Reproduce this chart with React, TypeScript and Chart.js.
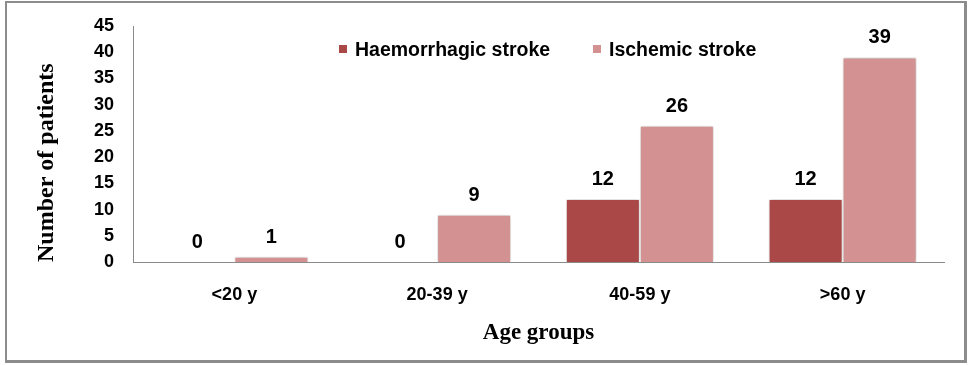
import React, { useEffect, useRef } from 'react';
import { Chart, registerables } from 'chart.js';

Chart.register(...registerables);

const categories = ['<20 y', '20-39 y', '40-59 y', '>60 y'];
const haemorrhagic = [0, 0, 12, 12];
const ischemic = [1, 9, 26, 39];
const seriesNames = ['Haemorrhagic stroke', 'Ischemic stroke'];
const seriesColors = ['#A94846', '#D39291'];
const yMin = 0;
const yMax = 45;
const yStep = 5;
const xTitle = 'Age groups';
const yTitle = 'Number of patients';

const SANS = "'Liberation Sans', Arial, sans-serif";
const SERIF = "'Liberation Serif', 'Times New Roman', serif";

const shadowPlugin = {
  id: 'barShadow',
  beforeDatasetsDraw(chart: any) {
    const ctx = chart.ctx;
    ctx.save();
    ctx.shadowColor = 'rgba(0,0,0,0.28)';
    ctx.shadowBlur = 4;
    ctx.shadowOffsetX = 0;
    ctx.shadowOffsetY = 0;
  },
  afterDatasetsDraw(chart: any) {
    chart.ctx.restore();
  },
};

const valueLabelPlugin = {
  id: 'valueLabels',
  afterDatasetsDraw(chart: any) {
    const ctx = chart.ctx;
    ctx.save();
    ctx.font = `bold 20px ${SANS}`;
    ctx.fillStyle = '#000';
    ctx.textAlign = 'center';
    ctx.textBaseline = 'alphabetic';
    chart.data.datasets.forEach((ds: any, i: number) => {
      const meta = chart.getDatasetMeta(i);
      meta.data.forEach((el: any, j: number) => {
        ctx.fillText(String(ds.data[j]), el.x, el.y - 14);
      });
    });
    ctx.restore();
  },
};

const legendPlugin = {
  id: 'insideLegend',
  afterDraw(chart: any) {
    const ctx = chart.ctx;
    const items = [
      { x: 339, label: seriesNames[0], color: seriesColors[0] },
      { x: 593, label: seriesNames[1], color: seriesColors[1] },
    ];
    const cy = 49;
    ctx.save();
    ctx.font = `bold 19.5px ${SANS}`;
    ctx.textAlign = 'left';
    ctx.textBaseline = 'middle';
    items.forEach((it) => {
      ctx.fillStyle = it.color;
      ctx.fillRect(it.x, cy - 4, 8, 8);
      ctx.fillStyle = '#000';
      ctx.fillText(it.label, it.x + 16, cy + 1.5);
    });
    ctx.restore();
  },
};

export default function App() {
  const ref = useRef<HTMLCanvasElement>(null);

  useEffect(() => {
    if (!ref.current) return;
    const chart = new Chart(ref.current, {
      type: 'bar',
      data: {
        labels: categories,
        datasets: [
          {
            label: seriesNames[0],
            data: haemorrhagic,
            backgroundColor: seriesColors[0],
            borderColor: '#ffffff',
            borderWidth: 1,
            categoryPercentage: 0.73,
            barPercentage: 1,
          },
          {
            label: seriesNames[1],
            data: ischemic,
            backgroundColor: seriesColors[1],
            borderColor: '#ffffff',
            borderWidth: 1,
            categoryPercentage: 0.73,
            barPercentage: 1,
          },
        ],
      },
      options: {
        responsive: false,
        animation: false,
        layout: { padding: { left: 0, right: 26, top: 26, bottom: 0 } },
        plugins: {
          legend: { display: false },
          tooltip: { enabled: false },
        },
        scales: {
          x: {
            grid: { display: false, drawTicks: false },
            border: { display: true, color: '#8a8a8a', width: 1 },
            ticks: {
              color: '#000',
              padding: 22,
              font: { family: SANS, size: 18, weight: 'bold' },
            },
            title: {
              display: true,
              text: xTitle,
              color: '#000',
              font: { family: SERIF, size: 23, weight: 'bold' },
              padding: { top: 0, bottom: 18 },
            },
            afterFit(scale: any) {
              scale.height = 103;
            },
          },
          y: {
            min: yMin,
            max: yMax,
            grid: { display: false, drawTicks: true, tickLength: 16 },
            border: { display: true, color: '#8a8a8a', width: 1 },
            ticks: {
              stepSize: yStep,
              color: '#000',
              padding: 3,
              font: { family: SANS, size: 18, weight: 'bold' },
            },
            title: {
              display: true,
              text: yTitle,
              align: 'start',
              color: '#000',
              font: { family: SERIF, size: 24, weight: 'bold' },
              padding: { top: 32, bottom: 0 },
            },
            afterFit(scale: any) {
              scale.width = 133;
            },
          },
        },
      } as any,
      plugins: [shadowPlugin, valueLabelPlugin, legendPlugin],
    });
    return () => chart.destroy();
  }, []);

  return (
    <div style={{ position: 'fixed', left: 0, top: 0, width: 970, height: 365, background: '#fff' }}>
      <div
        style={{
          position: 'absolute',
          left: 5,
          top: 1,
          width: 962,
          height: 362,
          boxSizing: 'border-box',
          borderTop: '2px solid #8c8c8c',
          borderLeft: '2px solid #8c8c8c',
          borderRight: '3px solid #8c8c8c',
          borderBottom: '3px solid #8c8c8c',
        }}
      />
      <canvas
        ref={ref}
        width={970}
        height={365}
        style={{ position: 'absolute', left: 0, top: 0, width: 970, height: 365 }}
      />
    </div>
  );
}
